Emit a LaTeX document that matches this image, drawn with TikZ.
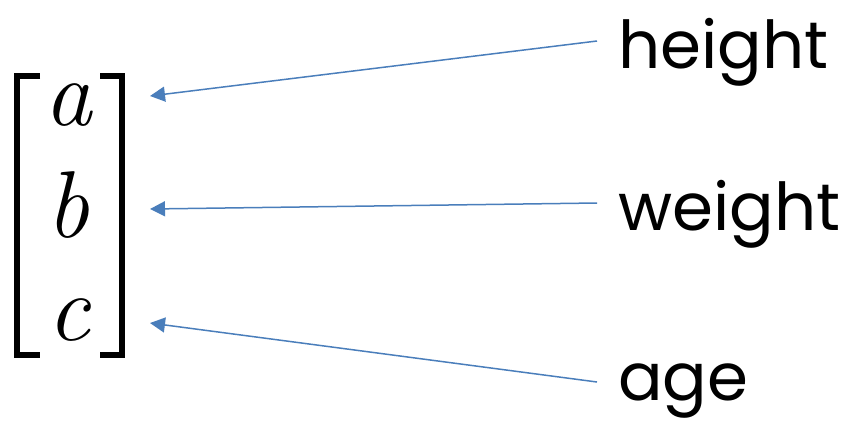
\documentclass[tikz,border=0pt]{standalone}
\usepackage{fontspec}
\newfontfamily\labfont{Poppins}
\usetikzlibrary{arrows.meta}
\definecolor{arrowblue}{HTML}{4A7EBB}
\tikzset{
  lab/.style={anchor=base west, inner sep=0pt, font=\labfont\fontsize{66}{66}\selectfont},
  ent/.style={anchor=base, inner sep=0pt, font=\itshape\fontsize{95}{95}\selectfont},
  brk/.style={line width=6pt, line cap=butt, line join=miter},
  conn/.style={draw=arrowblue, line width=1.5pt, -{Triangle[length=15pt,width=15pt]}}
}
\begin{document}
\begin{tikzpicture}[x=1pt,y=-1pt]
\useasboundingbox (0,0) rectangle (850,429);
% brackets
\draw[brk] (40,75.5) -- (16.5,75.5) -- (16.5,354.5) -- (40,354.5);
\draw[brk] (100,75.5) -- (121.5,75.5) -- (121.5,354.5) -- (100,354.5);
% entries
\node[ent] (ea) at (68,125) {a};
\node[ent] (eb) at (68,237) {b};
\node[ent] (ec) at (69,340) {c};
% labels
\node[lab] (lh) at (618,68) {height};
\node[lab] (lw) at (618,230) {weight};
\node[lab] (lg) at (618,400) {age};
% endpoints
\coordinate (sh) at (597,41);
\coordinate (sw) at (597,203);
\coordinate (sg) at (597,382);
\coordinate (th) at (150,96);
\coordinate (tw) at (150,209);
\coordinate (tg) at (150,323);
\draw[conn] (sh) -- (th);
\draw[conn] (sw) -- (tw);
\draw[conn] (sg) -- (tg);
\end{tikzpicture}
\end{document}
